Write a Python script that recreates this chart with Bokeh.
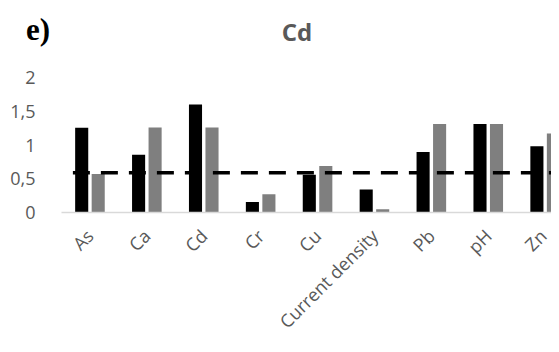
import math
from bokeh.plotting import figure
from bokeh.layouts import column
from bokeh.models import Range1d, FixedTicker, ColumnDataSource, Div
from bokeh.embed import file_html
from bokeh.resources import INLINE

# ---- data ----
categories = ["As", "Ca", "Cd", "Cr", "Cu", "Current density", "Pb", "pH", "Zn"]
series_black = [1.255, 0.855, 1.60, 0.155, 0.56, 0.34, 0.895, 1.31, 0.98]
series_gray = [0.57, 1.26, 1.26, 0.27, 0.69, 0.05, 1.31, 1.31, 1.17]
threshold = 0.59
y_ticks = [0, 0.5, 1, 1.5, 2]
y_tick_labels = ["0", "0,5", "1", "1,5", "2"]
title_text = "Cd"
panel_text = "e)"

# ---- styling / layout ----
W = 551
HEAD_H = 50
H = 344 - HEAD_H
FONT = "Open Sans"
GRAY_TXT = "#595959"
bar_w = 0.23
off = 0.145
FL, FB, FT = 61, 130, 77 - HEAD_H   # frame left, bottom border, top border (px)
cat_px = 56.9

head_html = (
    f'<div style="position:relative;width:{W}px;height:{HEAD_H}px;margin:0;padding:0;">'
    f'<span style="position:absolute;left:26px;top:14px;font-family:\'Liberation Serif\',serif;'
    f'font-weight:bold;font-size:31px;line-height:31px;color:#000000;white-space:nowrap;">'
    f'{panel_text}</span>'
    f'<span style="position:absolute;left:297px;top:20px;transform:translateX(-50%);'
    f'font-family:\'Open Sans\';font-weight:bold;font-size:24px;line-height:24px;'
    f'color:{GRAY_TXT};white-space:nowrap;">{title_text}</span>'
    f'</div>'
)
head = Div(text=head_html, width=W, height=HEAD_H, margin=0)

xs = list(range(len(categories)))
src = ColumnDataSource(dict(
    xb=[x - off for x in xs], yb=series_black,
    xg=[x + off for x in xs], yg=series_gray,
))

x_end = -0.5 + (W - FL) / cat_px
p = figure(width=W, height=H, output_backend="svg", toolbar_location=None,
           x_range=Range1d(-0.5, x_end), y_range=Range1d(0, 2),
           min_border_left=FL, min_border_right=0, min_border_top=FT,
           min_border_bottom=FB, outline_line_color=None,
           background_fill_color="white", border_fill_color="white")

p.vbar(x="xb", top="yb", width=bar_w, bottom=0, source=src,
       fill_color="#000000", line_color=None)
p.vbar(x="xg", top="yg", width=bar_w, bottom=0, source=src,
       fill_color="#7f7f7f", line_color=None)

line_x = [xs[0] - 0.3, xs[-1] + 1.0]
p.line(x=line_x, y=[threshold, threshold], line_color="black",
       line_width=3.5, line_dash="17 11")

p.xgrid.visible = False
p.ygrid.visible = False

xa = p.xaxis[0]
xa.ticker = FixedTicker(ticks=xs)
xa.major_label_overrides = {i: c for i, c in enumerate(categories)}
xa.major_label_orientation = math.pi / 4
xa.major_tick_line_color = None
xa.minor_tick_line_color = None
xa.axis_line_color = "#d9d9d9"
xa.axis_line_width = 1.5
xa.major_label_text_font = FONT
xa.major_label_text_font_size = "18px"
xa.major_label_text_color = GRAY_TXT
xa.major_label_standoff = 14

ya = p.yaxis[0]
ya.ticker = FixedTicker(ticks=y_ticks)
ya.major_label_overrides = {t: l for t, l in zip(y_ticks, y_tick_labels)}
ya.major_tick_line_color = None
ya.minor_tick_line_color = None
ya.axis_line_color = None
ya.major_label_text_font = FONT
ya.major_label_text_font_size = "18px"
ya.major_label_text_color = GRAY_TXT
ya.major_label_standoff = 20

layout = column(head, p, spacing=0)
open("out.html", "w").write(file_html(layout, INLINE))
